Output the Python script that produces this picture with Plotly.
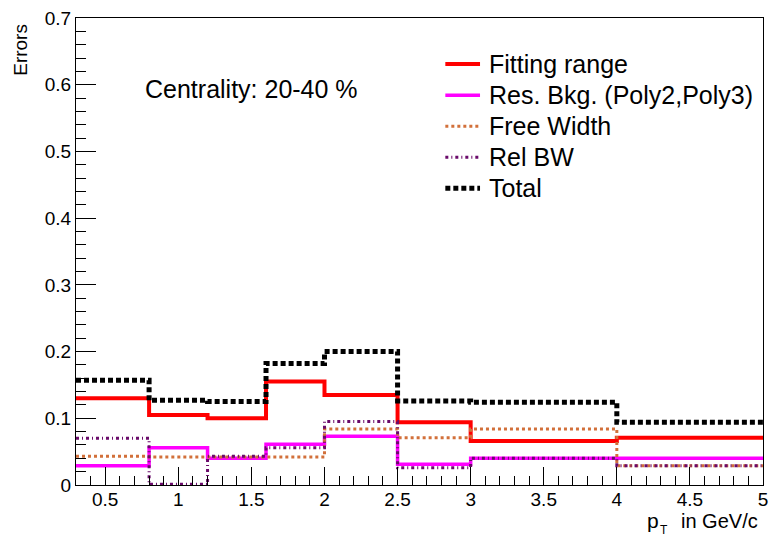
import plotly.graph_objects as go

# pT bin edges (GeV/c)
bin_edges = [0.3, 0.8, 1.2, 1.6, 2.0, 2.5, 3.0, 4.0, 5.0]

# Relative systematic errors per pT bin
fitting_range = [0.130, 0.105, 0.100, 0.155, 0.135, 0.094, 0.066, 0.071]
res_bkg       = [0.029, 0.056, 0.040, 0.061, 0.073, 0.031, 0.040, 0.040]
free_width    = [0.043, 0.042, 0.042, 0.042, 0.084, 0.071, 0.084, 0.029]
rel_bw        = [0.070, 0.001, 0.043, 0.056, 0.095, 0.026, 0.040, 0.029]
total         = [0.157, 0.127, 0.125, 0.182, 0.200, 0.126, 0.124, 0.094]

series_names = ["Fitting range", "Res. Bkg. (Poly2,Poly3)", "Free Width", "Rel BW", "Total"]
series_values = [fitting_range, res_bkg, free_width, rel_bw, total]
series_colors = ["#ff0000", "#ff00ff", "#d2703a", "#6a0a6a", "#000000"]
series_dash = ["solid", "solid", "3px,3px", "3px,3px,1px,3px", "5px,3px"]
series_width = [4, 3.5, 3, 3, 5]

FONT = "Liberation Sans, Arial, sans-serif"

fig = go.Figure()
for name, vals, color, dash, width in zip(series_names, series_values,
                                          series_colors, series_dash, series_width):
    # step histogram: repeat last value at the final edge
    fig.add_trace(go.Scatter(
        x=bin_edges,
        y=list(vals) + [vals[-1]],
        mode="lines",
        line=dict(shape="hv", color=color, dash=dash, width=width),
        name=name,
        showlegend=False,
    ))

# Legend box drawn in paper coordinates (ROOT-style TLegend)
shapes = []
annotations = []
leg_x0, leg_x1, leg_text_x = 0.5376, 0.5881, 0.5983
leg_y_top, leg_step = 0.9013, 0.0665
for i, (name, color, dash, width) in enumerate(zip(series_names, series_colors,
                                                   series_dash, series_width)):
    yy = leg_y_top - i * leg_step
    shapes.append(dict(type="line", xref="paper", yref="paper",
                       x0=leg_x0, x1=leg_x1, y0=yy, y1=yy,
                       line=dict(color=color, dash=dash, width=width)))
    annotations.append(dict(text=name, xref="paper", yref="paper",
                            x=leg_text_x, y=yy, xanchor="left", yanchor="middle",
                            showarrow=False, font=dict(family=FONT, size=25)))

annotations += [
    dict(text="Centrality: 20-40 %", xref="paper", yref="paper",
         x=0.097, y=0.848, xanchor="left", yanchor="middle",
         showarrow=False, font=dict(family=FONT, size=25)),
    dict(text="Errors", xref="paper", yref="paper",
         x=-0.08, y=0.992, xanchor="center", yanchor="top", textangle=-90,
         showarrow=False, font=dict(family=FONT, size=19)),
    # x-axis title "p_T in GeV/c", subscript placed as its own small label
    dict(text="p", xref="paper", yref="paper",
         x=0.8512, y=-0.077, xanchor="right", yanchor="middle",
         showarrow=False, font=dict(family=FONT, size=21)),
    dict(text="T", xref="paper", yref="paper",
         x=0.8555, y=-0.096, xanchor="center", yanchor="middle",
         showarrow=False, font=dict(family=FONT, size=12)),
    dict(text="in GeV/c", xref="paper", yref="paper",
         x=0.9957, y=-0.077, xanchor="right", yanchor="middle",
         showarrow=False, font=dict(family=FONT, size=20)),
]

fig.update_layout(
    width=776, height=537,
    margin=dict(l=76, r=8, t=17, b=52),
    paper_bgcolor="white", plot_bgcolor="white",
    font=dict(family=FONT, size=19, color="black"),
    showlegend=False,
    xaxis=dict(
        range=[0.3, 5.0], showgrid=False, zeroline=False,
        showline=True, linecolor="black", linewidth=1, mirror=True,
        ticks="inside", ticklen=18, tickcolor="black",
        tickmode="linear", tick0=0, dtick=0.5,
        ticklabelstandoff=-3,
        minor=dict(ticks="inside", ticklen=9, dtick=0.1, tick0=0, tickcolor="black"),
        tickfont=dict(family=FONT, size=19),
    ),
    yaxis=dict(
        range=[0, 0.7], showgrid=False, zeroline=False,
        showline=True, linecolor="black", linewidth=1, mirror=True,
        ticks="inside", ticklen=20, tickcolor="black",
        tickmode="linear", tick0=0, dtick=0.1,
        minor=dict(ticks="inside", ticklen=10, dtick=0.02, tick0=0, tickcolor="black"),
        tickfont=dict(family=FONT, size=19),
    ),
    shapes=shapes,
    annotations=annotations,
)

fig.write_html("out.html")
